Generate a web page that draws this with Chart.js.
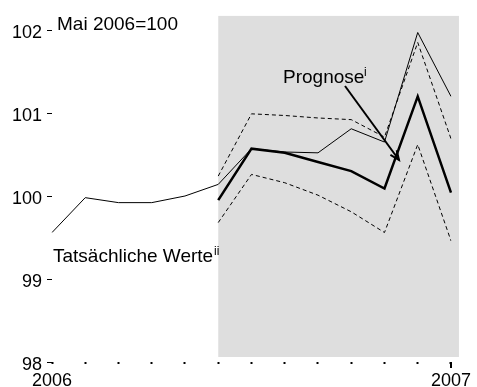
<!DOCTYPE html>
<html>
<head>
<meta charset="utf-8">
<script src="https://cdn.jsdelivr.net/npm/chart.js@4"></script>
<style>
    body { margin: 0; background: #ffffff; }
    canvas { display: block; }
</style>
</head>
<body>
<canvas id="PriceChart" width="477" height="387"></canvas>
<script>
// monthly index, Mai 2006 = 100
const months = ['2006', '', '', '', '', '', '', '', '', '', '', '', '2007'];
const actual = [99.56, 99.98, 99.92, 99.92, 100.0, 100.14, 100.57, 100.53, 100.52, 100.81, 100.65, 101.97, 101.20];
const forecast = [null, null, null, null, null, 99.95, 100.57, 100.52, 100.41, 100.30, 100.09, 101.20, 100.04];
const upper = [null, null, null, null, null, 100.24, 100.99, 100.97, 100.94, 100.92, 100.71, 101.85, 100.69];
const lower = [null, null, null, null, null, 99.68, 100.26, 100.16, 100.01, 99.81, 99.56, 100.62, 99.46];
const yTicks = [98, 99, 100, 101, 102];

// grey background behind the forecast months
const forecastBand = {
    id: 'forecastBand',
    beforeDatasetsDraw(chart) {
        const x = chart.scales.x, y = chart.scales.y, ctx = chart.ctx;
        const left = x.getPixelForValue(5), right = x.getPixelForValue(12.24);
        const top = y.getPixelForValue(102.17), bottom = y.getPixelForValue(98.06);
        ctx.save();
        ctx.fillStyle = '#dedede';
        ctx.fillRect(left, top, right - left, bottom - top);
        ctx.restore();
    }
};

// labels, arrow and the year tick
const notes = {
    id: 'notes',
    afterDraw(chart) {
        const ctx = chart.ctx;
        ctx.save();
        ctx.fillStyle = '#000';
        ctx.strokeStyle = '#000';
        ctx.textBaseline = 'alphabetic';
        ctx.font = '19px "Liberation Sans", Arial, sans-serif';
        ctx.fillText('Mai 2006=100', 57, 30);
        ctx.fillText('Tatsächliche Werte', 53, 262);
        ctx.fillText('Prognose', 283, 83);
        ctx.font = '12px "Liberation Sans", Arial, sans-serif';
        ctx.fillText('ii', 214, 255);
        ctx.fillText('i', 364, 76);

        // arrow to the forecast line
        ctx.lineWidth = 2;
        ctx.beginPath();
        ctx.moveTo(345, 86);
        ctx.lineTo(399, 160);
        ctx.stroke();
        const a = Math.atan2(160 - 86, 399 - 345);
        ctx.beginPath();
        ctx.moveTo(399 - 10 * Math.cos(a - 0.4), 160 - 10 * Math.sin(a - 0.4));
        ctx.lineTo(399, 160);
        ctx.lineTo(399 - 10 * Math.cos(a + 0.4), 160 - 10 * Math.sin(a + 0.4));
        ctx.stroke();

        // longer tick for the new year
        const xs = chart.scales.x.getPixelForValue(12);
        ctx.lineWidth = 2;
        ctx.beginPath();
        ctx.moveTo(xs, chart.chartArea.bottom);
        ctx.lineTo(xs, chart.chartArea.bottom + 6);
        ctx.stroke();
        ctx.restore();
    }
};

const line_data = {
    labels: months,
    datasets: [{
        label: 'Tatsächliche Werte',
        data: actual,
        borderColor: '#000',
        borderWidth: 1
    }, {
        label: 'Prognose',
        data: forecast,
        borderColor: '#000',
        borderWidth: 2.5
    }, {
        label: 'Obere Grenze',
        data: upper,
        borderColor: '#000',
        borderWidth: 1,
        borderDash: [4, 3]
    }, {
        label: 'Untere Grenze',
        data: lower,
        borderColor: '#000',
        borderWidth: 1,
        borderDash: [4, 3]
    }]
};

const configLine = {
    type: 'line',
    data: line_data,
    options: {
        responsive: false,
        devicePixelRatio: 1,
        animation: false,
        layout: {
            padding: { top: 30, right: 21, left: 0, bottom: 0 }
        },
        elements: {
            point: { radius: 0 },
            line: { tension: 0 }
        },
        plugins: {
            legend: { display: false },
            tooltip: { enabled: false }
        },
        scales: {
            x: {
                afterFit(scale) { scale.height = 25; },
                border: { display: false },
                grid: {
                    drawOnChartArea: false,
                    drawTicks: true,
                    tickLength: 2,
                    tickWidth: 2,
                    tickColor: '#000'
                },
                ticks: {
                    autoSkip: false,
                    maxRotation: 0,
                    padding: 6,
                    color: '#000',
                    font: { family: '"Liberation Sans", Arial, sans-serif', size: 18 }
                }
            },
            y: {
                min: 98,
                max: 102,
                afterFit(scale) { scale.width = 52; },
                afterBuildTicks(scale) {
                    scale.ticks = yTicks.map(v => ({ value: v }));
                },
                border: { display: false },
                grid: {
                    drawOnChartArea: false,
                    drawTicks: true,
                    tickLength: 5,
                    tickColor: '#000',
                    lineWidth: 1
                },
                ticks: {
                    padding: 5,
                    labelOffset: 3,
                    color: '#000',
                    font: { family: '"Liberation Sans", Arial, sans-serif', size: 18 }
                }
            }
        }
    },
    plugins: [forecastBand, notes]
};

const PriceChart = new Chart(
    document.getElementById('PriceChart'),
    configLine
);
</script>
</body>
</html>
